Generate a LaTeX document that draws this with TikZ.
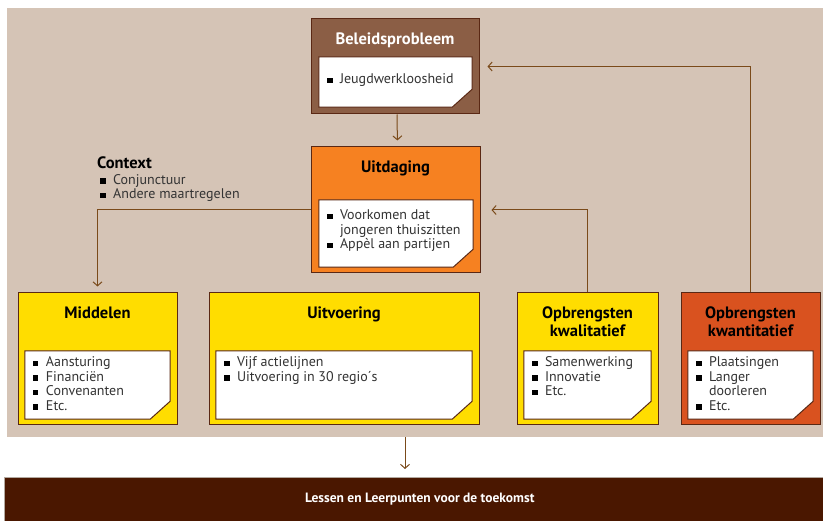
\documentclass[tikz,border=0pt]{standalone}
\usepackage{fontspec}
\setmainfont{PT Sans}
\usetikzlibrary{positioning, arrows.meta}

\definecolor{beige}{HTML}{D5C4B6}
\definecolor{edge}{HTML}{5A2814}
\definecolor{arrow}{HTML}{7A4A1A}
\definecolor{bpbrown}{HTML}{8B5E45}
\definecolor{uitorange}{HTML}{F68121}
\definecolor{yel}{HTML}{FFDD00}
\definecolor{redorange}{HTML}{D9521F}
\definecolor{barbrown}{HTML}{4A1700}
\definecolor{itemgray}{HTML}{333333}

\newcommand{\blt}{\makebox[13pt][l]{\color{black}\rule[0.5pt]{5.5pt}{5.5pt}}}
\newcommand{\cnt}{\hspace*{13pt}}

\begin{document}
\begin{tikzpicture}[x=1pt, y=-1pt,
    box/.style={draw=edge, line width=1pt, inner sep=0pt},
    note/.style={inner sep=0pt},
    notefill/.style={draw=edge, line width=1pt, fill=white},
    title/.style={font=\bfseries\fontsize{16.5}{18}\selectfont, align=center, inner sep=0pt},
    items/.style={font=\fontsize{14}{14.5}\selectfont, text=itemgray, align=left,
      inner sep=0pt, anchor=north west},
    arr/.style={draw=arrow, line width=1pt, -{Straight Barb[length=4pt,width=9pt]}, shorten >=6pt}]
  \useasboundingbox (0,0) rectangle (823,521);

  % background and bottom bar
  \node[fill=beige, inner sep=0pt, minimum width=816pt, minimum height=429pt,
    anchor=north west] (bg) at (7,8) {};
  \node[fill=barbrown, draw=beige!60!gray, line width=0.6pt, inner sep=0pt,
    minimum width=819pt, minimum height=44pt, anchor=north west, text=white,
    font=\bfseries\fontsize{13.5}{15}\selectfont] (les) at (4,477)
    {\hspace*{12pt}Lessen en Leerpunten voor de toekomst};

  % main boxes
  \node[box, fill=bpbrown, minimum width=168pt, minimum height=95pt] (bp) at (395,66.5) {};
  \node[box, fill=uitorange, minimum width=169pt, minimum height=126pt] (uit) at (395.5,210) {};
  \node[box, fill=yel, minimum width=159pt, minimum height=132pt] (mid) at (97.5,359) {};
  \node[box, fill=yel, minimum width=270pt, minimum height=132pt] (uitv) at (344,359) {};
  \node[box, fill=yel, minimum width=141pt, minimum height=132pt] (kwal) at (587.5,359) {};
  \node[box, fill=redorange, minimum width=139pt, minimum height=132pt] (kwan) at (750.5,359) {};

  \node[title, text=white, below=14pt of bp.north] (bp-t) {Beleidsprobleem};
  \node[title, below=14pt of uit.north] (uit-t) {Uitdaging};
  \node[title, below=14pt of mid.north] (mid-t) {Middelen};
  \node[title, below=14pt of uitv.north] (uitv-t) {Uitvoering};
  \node[title, below=14pt of kwal.north] (kwal-t) {Opbrengsten\\kwalitatief};
  \node[title, below=14pt of kwan.north] (kwan-t) {Opbrengsten\\kwantitatief};

  % notes with a cut corner
  \node[note, minimum width=153pt, minimum height=50pt] (bp-n) at (395.5,82) {};
  \node[note, minimum width=154pt, minimum height=67pt] (uit-n) at (396,233.5) {};
  \node[note, minimum width=145pt, minimum height=68pt] (mid-n) at (97.5,385) {};
  \node[note, minimum width=256pt, minimum height=68pt] (uitv-n) at (344,385) {};
  \node[note, minimum width=127pt, minimum height=68pt] (kwal-n) at (587.5,385) {};
  \node[note, minimum width=125pt, minimum height=68pt] (kwan-n) at (750.5,385) {};
  \foreach \n in {bp-n, uit-n, mid-n, uitv-n, kwal-n, kwan-n}
    \draw[notefill] (\n.north west) -- (\n.north east) -- ([yshift=18pt]\n.south east)
      -- ([xshift=-20pt]\n.south east) -- (\n.south west) -- cycle;

  \node[items] (bp-i) at ([xshift=8pt,yshift=-17pt]bp-n.north west) {\blt Jeugdwerkloosheid};
  \node[items] (uit-i) at ([xshift=8pt,yshift=-10pt]uit-n.north west)
    {\blt Voorkomen dat\\ \cnt jongeren thuiszitten\\ \blt Appèl aan partijen};
  \node[items] (mid-i) at ([xshift=8pt,yshift=-6pt]mid-n.north west)
    {\blt Aansturing\\ \blt Financiën\\ \blt Convenanten\\ \blt Etc.};
  \node[items] (uitv-i) at ([xshift=8pt,yshift=-6pt]uitv-n.north west)
    {\blt Vijf actielijnen\\ \blt Uitvoering in 30 regio´s};
  \node[items] (kwal-i) at ([xshift=8pt,yshift=-6pt]kwal-n.north west)
    {\blt Samenwerking\\ \blt Innovatie\\ \blt Etc.};
  \node[items] (kwan-i) at ([xshift=8pt,yshift=-6pt]kwan-n.north west)
    {\blt Plaatsingen\\ \blt Langer\\ \cnt doorleren\\ \blt Etc.};

  % context
  \node[items, text=itemgray] (ctx) at (97,157)
    {{\color{black}\bfseries\fontsize{16.5}{16}\selectfont Context}\\[1pt]
     \hspace*{3pt}\blt Conjunctuur\\ \hspace*{3pt}\blt Andere maartregelen};

  % connectors
  \coordinate (drop) at (405,0);
  \draw[arr] ([xshift=2pt]bp.south) -- ([xshift=2pt]uit.north);
  \draw[arr] (uit.west) -| (mid.north);
  \draw[arr, shorten >=11pt] (kwal.north) |- (uit.east);
  \draw[arr, shorten >=8pt] (kwan.north) |- (bp.east);
  \draw[arr, shorten >=8pt] (bg.south -| drop) -- (les.north -| drop);
\end{tikzpicture}
\end{document}
